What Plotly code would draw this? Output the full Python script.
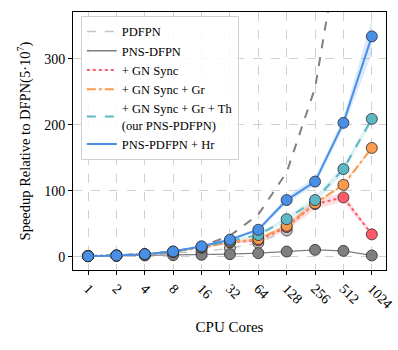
import plotly.graph_objects as go

# CPU cores on the x axis
cores = ["1", "2", "4", "8", "16", "32", "64", "128", "256", "512", "1024"]

# speedup values
ideal = [1, 2, 4, 8, 16, 32, 64, 128, 256, 512, 1024]
pdfpn = [1, 1.9, 3.5, 5.5, 8, 13, 21, 40]
pns_dfpn = [1, 1.5, 2, 2.5, 3, 4, 5.5, 8, 10.5, 9, 2]
gn_sync = [1, 1.9, 3.8, 7.5, 14, 22, 25, 45, 80, 90, 34]
gn_gr = [1, 1.9, 3.8, 7.5, 14, 22, 27, 47, 81, 109, 165]
gn_gr_th = [1, 1.9, 3.9, 7.8, 15, 24, 33, 57, 86, 133, 209]
hr = [1, 1.9, 4, 8, 16, 26, 41, 86, 114, 203, 334]

# half widths of the shaded bands
gn_sync_err = [0, 0, 0.5, 1, 1, 2, 3, 5, 8, 6, 3]
gn_gr_err = [0, 0, 0.5, 1, 1, 2, 2, 3, 3, 3, 3]
gn_gr_th_err = [0, 0, 0.5, 1, 1, 2, 2, 4, 5, 6, 5]
hr_err = [0, 0, 0.5, 1, 1, 2, 3, 5, 6, 8, 26]

series = [
    ("PDFPN", pdfpn, None, "#c4c4c4", "dash", 1.3),
    ("PNS-DFPN", pns_dfpn, None, "#7f7f7f", "solid", 1.3),
    ("+ GN Sync", gn_sync, gn_sync_err, "#ff5a68", "dot", 2),
    ("+ GN Sync + Gr", gn_gr, gn_gr_err, "#f99a4e", "dashdot", 2),
    ("+ GN Sync + Gr + Th<br>(our PNS-PDFPN)", gn_gr_th, gn_gr_th_err, "#5cb8c4", "dash", 2),
    ("PNS-PDFPN + Hr", hr, hr_err, "#4a8fe6", "solid", 2),
]


def rgba(hexcol, a):
    h = hexcol.lstrip("#")
    return "rgba(%d,%d,%d,%s)" % (int(h[0:2], 16), int(h[2:4], 16), int(h[4:6], 16), a)


fig = go.Figure()

# ideal speedup, not in the legend
fig.add_trace(go.Scatter(x=cores, y=ideal, mode="lines", showlegend=False,
                         line=dict(color="#808080", dash="dash", width=2)))

for name, vals, err, col, dash, w in series:
    xs = cores[:len(vals)]
    if err is not None:
        hi = [v + e for v, e in zip(vals, err)]
        lo = [v - e for v, e in zip(vals, err)]
        fig.add_trace(go.Scatter(x=xs + xs[::-1], y=hi + lo[::-1], fill="toself",
                                 fillcolor=rgba(col, 0.2), line=dict(width=0),
                                 mode="lines", showlegend=False, hoverinfo="skip"))
    fig.add_trace(go.Scatter(x=xs, y=vals, mode="lines", name=name,
                             line=dict(color=col, dash=dash, width=w)))
    fig.add_trace(go.Scatter(x=xs, y=vals, mode="markers", showlegend=False,
                             marker=dict(color=col, size=11,
                                         line=dict(color="#2a2a2a", width=0.8))))

fig.update_layout(
    width=398, height=350,
    margin=dict(l=73, r=12, t=12, b=80),
    paper_bgcolor="white", plot_bgcolor="white",
    font=dict(family="Liberation Serif", size=14, color="black"),
    legend=dict(x=0.025, y=0.985, xanchor="left", yanchor="top",
                bgcolor="rgba(255,255,255,0.85)", bordercolor="#d0d0d0", borderwidth=1,
                font=dict(size=12.5), itemwidth=30, tracegroupgap=0),
)
fig.update_xaxes(type="category", range=[-0.53, 10.5], tickangle=45, automargin=False,
                 showgrid=True, gridcolor="#d0d0d0", griddash="dash", gridwidth=1,
                 showline=True, linecolor="black", linewidth=1, mirror=True,
                 ticks="outside", ticklen=4, tickcolor="black",
                 tickfont=dict(size=14),
                 title=dict(text="CPU Cores", font=dict(size=15), standoff=10))
fig.update_yaxes(range=[-20, 371], tickvals=[0, 100, 200, 300], automargin=False,
                 showgrid=True, gridcolor="#d0d0d0", griddash="dash", gridwidth=1,
                 zeroline=False,
                 showline=True, linecolor="black", linewidth=1, mirror=True,
                 ticks="outside", ticklen=4, tickcolor="black",
                 tickfont=dict(size=14),
                 title=dict(text="Speedup Relative to DFPN(5·10<sup>7</sup>)", font=dict(size=14.5),
                            standoff=10))

# the page body has a default margin; drop it so the figure fills the window
fig.write_html("out.html", config={"displayModeBar": False},
               post_script="document.body.style.margin='0px';")
